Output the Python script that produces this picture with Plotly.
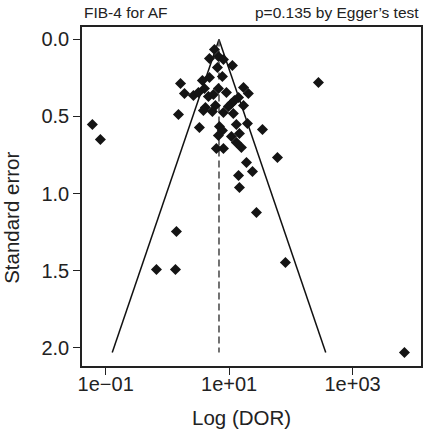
import plotly.graph_objects as go
import numpy as np

# Study-level diagnostic odds ratios (DOR) and standard errors
dor = [5.78, 4.80, 6.71, 8.09, 6.46, 11.3, 7.78, 4.80, 3.69, 1.63,
       1.89, 3.98, 6.71, 9.04, 17.1, 20.5, 2.64, 3.18, 4.62, 5.57,
       14.2, 12.2, 10.9, 9.74, 17.1, 4.13, 3.83, 6.00, 5.36, 1.51,
       8.09, 11.7, 3.30, 6.97, 7.78, 13.1, 19.8, 34.7, 6.71, 10.9,
       14.7, 13.1, 15.8, 6.22, 8.09, 19.1, 23.9, 60.7, 14.2, 14.7,
       0.0608, 0.082, 280, 1.40, 0.664, 1.35, 27.7, 81.7, 6930]
se = [0.065, 0.123, 0.110, 0.130, 0.182, 0.169, 0.240, 0.247, 0.266, 0.286,
      0.351, 0.318, 0.318, 0.344, 0.312, 0.351, 0.364, 0.344, 0.370, 0.357,
      0.377, 0.396, 0.416, 0.435, 0.429, 0.442, 0.461, 0.429, 0.468, 0.487,
      0.474, 0.481, 0.571, 0.565, 0.591, 0.552, 0.545, 0.584, 0.623, 0.630,
      0.610, 0.669, 0.701, 0.708, 0.708, 0.799, 0.857, 0.766, 0.883, 0.961,
      0.552, 0.649, 0.279, 1.247, 1.494, 1.494, 1.123, 1.448, 2.032]

pooled_dor = 6.85
title_left = "FIB-4 for AF"
title_right = "p=0.135 by Egger\u2019s test"
x_title = "Log (DOR)"
y_title = "Standard error"
x_tickvals = [0.1, 10, 1000]
x_ticktext = ["1e\u221201", "1e+01", "1e+03"]
y_tickvals = [0.0, 0.5, 1.0, 1.5, 2.0]
y_ticktext = ["0.0", "0.5", "1.0", "1.5", "2.0"]

FONT = "Liberation Sans, Arial, sans-serif"
TXT = "#222222"

se_max = max(se)
se_line = np.array([0.0, se_max])
lo = np.exp(np.log(pooled_dor) - 1.96 * se_line)
hi = np.exp(np.log(pooled_dor) + 1.96 * se_line)

fig = go.Figure()
# funnel (pseudo 95% CI) lines
fig.add_trace(go.Scatter(x=list(lo), y=list(se_line), mode="lines",
                         line=dict(color="#111111", width=1.5), hoverinfo="skip"))
fig.add_trace(go.Scatter(x=list(hi), y=list(se_line), mode="lines",
                         line=dict(color="#111111", width=1.5), hoverinfo="skip"))
# pooled estimate dashed line
fig.add_trace(go.Scatter(x=[pooled_dor, pooled_dor], y=[0.0, se_max], mode="lines",
                         line=dict(color="#444444", width=1.5, dash="7px,4px"),
                         hoverinfo="skip"))
# studies
fig.add_trace(go.Scatter(x=dor, y=se, mode="markers",
                         marker=dict(symbol="diamond", size=8.5, color="#141414",
                                     line=dict(width=0))))

fig.update_layout(
    width=425, height=437,
    margin=dict(l=82, r=4, t=27, b=71, autoexpand=False),
    paper_bgcolor="white", plot_bgcolor="white",
    showlegend=False,
    font=dict(family=FONT, color=TXT, size=20),
    annotations=[
        dict(text=title_left, x=0, y=1, xref="paper", yref="paper",
             xanchor="left", yanchor="bottom", yshift=4, showarrow=False,
             font=dict(size=15.5, family=FONT, color=TXT)),
        dict(text=title_right, x=1, y=1, xref="paper", yref="paper",
             xanchor="right", yanchor="bottom", yshift=4, showarrow=False,
             font=dict(size=15.5, family=FONT, color=TXT)),
        dict(text=x_title, x=0.47, y=0, xref="paper", yref="paper",
             xanchor="center", yanchor="middle", yshift=-51, showarrow=False,
             font=dict(size=20.5, family=FONT, color=TXT)),
        dict(text=y_title, x=0, y=0.437, xref="paper", yref="paper",
             xanchor="center", yanchor="middle", xshift=-70, textangle=-90,
             showarrow=False, font=dict(size=20.5, family=FONT, color=TXT)),
    ],
)
fig.update_xaxes(type="log", range=[-1.384, 4.109], automargin=False,
                 tickvals=x_tickvals, ticktext=x_ticktext,
                 ticks="outside", ticklen=7, tickwidth=1, tickcolor=TXT,
                 ticklabelstandoff=-8,
                 showline=True, mirror=True, linecolor=TXT, linewidth=1.5,
                 showgrid=False, zeroline=False,
                 tickfont=dict(size=20))
fig.update_yaxes(range=[2.12, -0.081], automargin=False,
                 tickvals=y_tickvals, ticktext=y_ticktext,
                 ticks="outside", ticklen=7, tickwidth=1, tickcolor=TXT,
                 showline=True, mirror=True, linecolor=TXT, linewidth=1.5,
                 showgrid=False, zeroline=False,
                 tickfont=dict(size=20))

# remove the default 8px page margin so the 425x437 figure fills the window
fig.write_html("out.html", config={"displayModeBar": False},
               post_script="document.body.style.margin='0';document.body.style.overflow='hidden';")
